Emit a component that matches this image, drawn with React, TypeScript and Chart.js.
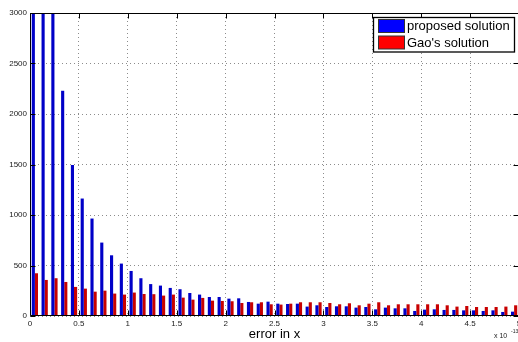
import React, { useEffect, useRef } from "react";
import { Chart, registerables } from "chart.js";

Chart.register(...registerables);

// Histogram bin centers (units of 1e-13)
const binCenters = [
  0.05, 0.15, 0.25, 0.35, 0.45, 0.55, 0.65, 0.75, 0.85, 0.95,
  1.05, 1.15, 1.25, 1.35, 1.45, 1.55, 1.65, 1.75, 1.85, 1.95,
  2.05, 2.15, 2.25, 2.35, 2.45, 2.55, 2.65, 2.75, 2.85, 2.95,
  3.05, 3.15, 3.25, 3.35, 3.45, 3.55, 3.65, 3.75, 3.85, 3.95,
  4.05, 4.15, 4.25, 4.35, 4.45, 4.55, 4.65, 4.75, 4.85, 4.95,
];

const proposedCounts = [
  5200, 4100, 3400, 2230, 1495, 1163, 965, 727, 601, 519,
  446, 374, 316, 301, 278, 265, 228, 212, 188, 188,
  172, 175, 139, 122, 142, 122, 119, 122, 93, 106,
  89, 96, 96, 83, 89, 66, 83, 76, 76, 50,
  63, 66, 60, 60, 56, 56, 50, 56, 40, 43,
];

const gaoCounts = [
  423, 357, 374, 337, 288, 271, 241, 251, 222, 212,
  232, 218, 216, 202, 212, 182, 162, 179, 152, 149,
  146, 129, 136, 136, 116, 113, 122, 136, 136, 136,
  129, 116, 126, 106, 122, 136, 106, 116, 116, 116,
  116, 116, 106, 93, 99, 89, 89, 89, 93, 106,
];

const seriesNames = ["proposed solution", "Gao's solution"];
const xTicks = [0, 0.5, 1, 1.5, 2, 2.5, 3, 3.5, 4, 4.5, 5];
const yTicks = [0, 500, 1000, 1500, 2000, 2500, 3000];
const xAxisTitle = "error in x";
const xExponentBase = "x 10";
const xExponent = "-13";

const BLUE_BAR = "#0000c8";
const RED_BAR = "#c80000";
const FONT = '"Liberation Sans", Arial, Helvetica, sans-serif';

const framePlugin = {
  id: "matlabFrame",
  afterDraw(chart: any) {
    const { ctx, chartArea: a, scales } = chart;
    const xs = scales.xl;
    const ys = scales.y;
    ctx.save();
    ctx.strokeStyle = "#000";
    ctx.lineWidth = 1;
    const L = Math.round(a.left) + 0.5;
    const R = Math.round(a.right) - 0.5;
    const T = Math.round(a.top) + 0.5;
    const B = Math.round(a.bottom) - 0.5;
    ctx.beginPath();
    ctx.rect(L, T, R - L, B - T);
    ctx.stroke();
    // inward tick marks
    ctx.beginPath();
    xTicks.forEach((v) => {
      const x = Math.round(xs.getPixelForValue(v)) + 0.5;
      ctx.moveTo(x, B);
      ctx.lineTo(x, B - 5);
      ctx.moveTo(x, T);
      ctx.lineTo(x, T + 5);
    });
    yTicks.forEach((v) => {
      const y = Math.round(ys.getPixelForValue(v)) + 0.5;
      ctx.moveTo(L, y);
      ctx.lineTo(L + 5, y);
      ctx.moveTo(R, y);
      ctx.lineTo(R - 5, y);
    });
    ctx.stroke();

    // axis title
    ctx.fillStyle = "#000";
    ctx.font = `13px ${FONT}`;
    ctx.textAlign = "center";
    ctx.textBaseline = "middle";
    ctx.fillText(xAxisTitle, (a.left + a.right) / 2, 334);

    // exponent
    ctx.fillStyle = "#222";
    ctx.font = `7px ${FONT}`;
    ctx.textAlign = "left";
    ctx.textBaseline = "alphabetic";
    ctx.fillText(xExponentBase, 494, 338);
    ctx.font = `5px ${FONT}`;
    ctx.fillText(xExponent, 511, 332.5);

    // legend
    const lx = 373.5, ly = 17.5, lw = 141, lh = 34.5;
    ctx.fillStyle = "#fff";
    ctx.fillRect(lx, ly, lw, lh);
    ctx.strokeStyle = "#000";
    ctx.lineWidth = 1.3;
    ctx.strokeRect(lx, ly, lw, lh);
    const swatches = ["#0000ff", "#ff0000"];
    ctx.lineWidth = 1;
    ctx.font = `13px ${FONT}`;
    ctx.textBaseline = "middle";
    seriesNames.forEach((name, i) => {
      const sy = 19.5 + i * 16.5;
      ctx.fillStyle = swatches[i];
      ctx.fillRect(378.5, sy, 26, 13);
      ctx.strokeStyle = "#333";
      ctx.strokeRect(378.5, sy, 26, 13);
      ctx.fillStyle = "#000";
      ctx.fillText(name, 407, sy + 7);
    });
    ctx.restore();
  },
};

export default function App() {
  const canvasRef = useRef<HTMLCanvasElement | null>(null);

  useEffect(() => {
    const canvas = canvasRef.current;
    if (!canvas) return;
    const gridColor = "rgba(0,0,0,0.45)";
    const chart = new Chart(canvas, {
      type: "bar",
      data: {
        labels: binCenters.map(String),
        datasets: [
          {
            label: seriesNames[0],
            data: proposedCounts,
            backgroundColor: BLUE_BAR,
            borderWidth: 0,
            categoryPercentage: 0.64,
            barPercentage: 1.0,
            xAxisID: "x",
          },
          {
            label: seriesNames[1],
            data: gaoCounts,
            backgroundColor: RED_BAR,
            borderWidth: 0,
            categoryPercentage: 0.64,
            barPercentage: 1.0,
            xAxisID: "x",
          },
        ],
      },
      options: {
        responsive: false,
        animation: false,
        devicePixelRatio: 1,
        layout: { padding: { top: 13, right: 3, left: 0, bottom: 0 } },
        plugins: {
          legend: { display: false },
          tooltip: { enabled: false },
          title: { display: false },
        },
        scales: {
          x: {
            type: "category",
            display: false,
            offset: true,
            grid: { display: false },
          },
          xl: {
            type: "linear",
            position: "bottom",
            min: 0,
            max: 5,
            offset: false,
            afterFit(scale: any) {
              scale.height = 26;
              scale.paddingLeft = 0;
              scale.paddingRight = 0;
            },
            afterBuildTicks(scale: any) {
              scale.ticks = xTicks.map((v) => ({ value: v }));
            },
            ticks: {
              autoSkip: false,
              maxRotation: 0,
              padding: 3,
              color: "#1a1a1a",
              font: { family: FONT, size: 8 },
              callback: (v: any) => String(v),
            },
            grid: {
              offset: false,
              color: gridColor,
              lineWidth: 1,
              drawTicks: false,
            },
            border: { display: false, dash: [1, 3] },
          },
          y: {
            type: "linear",
            min: 0,
            max: 3000,
            afterFit(scale: any) {
              scale.width = 30;
              scale.paddingTop = 0;
              scale.paddingBottom = 0;
            },
            afterBuildTicks(scale: any) {
              scale.ticks = yTicks.map((v) => ({ value: v }));
            },
            ticks: {
              padding: 3,
              color: "#1a1a1a",
              font: { family: FONT, size: 8 },
              callback: (v: any) => String(v),
            },
            grid: {
              color: gridColor,
              lineWidth: 1,
              drawTicks: false,
            },
            border: { display: false, dash: [1, 3] },
          },
        },
      },
      plugins: [framePlugin],
    });
    return () => chart.destroy();
  }, []);

  return (
    <div
      style={{
        position: "absolute",
        left: 0,
        top: 0,
        width: 518,
        height: 342,
        overflow: "hidden",
        background: "#fff",
      }}
    >
      <canvas
        ref={canvasRef}
        width={522}
        height={342}
        style={{ display: "block", width: 522, height: 342 }}
      />
    </div>
  );
}
